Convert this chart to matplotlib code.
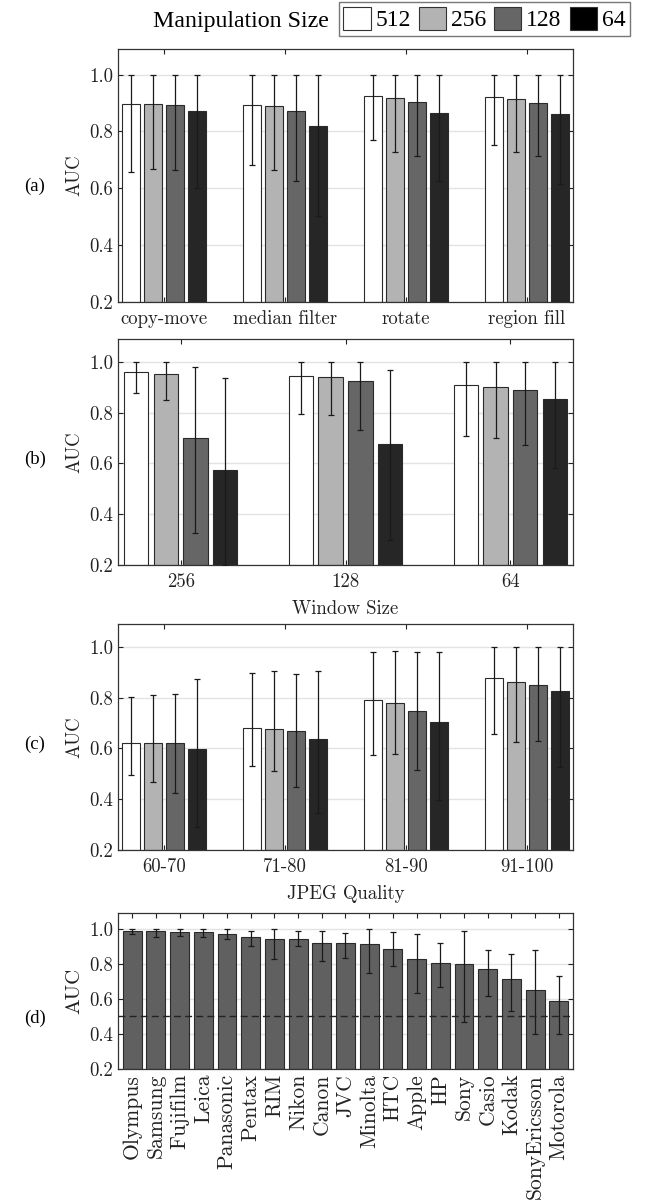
import matplotlib
matplotlib.use("Agg")
import matplotlib.pyplot as plt
from matplotlib.patches import Patch
import numpy as np

# ---- data ----
sizes = ["512", "256", "128", "64"]
size_colors = ["#ffffff", "#b3b3b3", "#666666", "#262626"]
legend_colors = ["#ffffff", "#b3b3b3", "#666666", "#000000"]

# (a) manipulation type
manip_types = ["copy-move", "median filter", "rotate", "region fill"]
manip_auc = [[0.896, 0.893, 0.925, 0.920],   # 512
             [0.896, 0.888, 0.916, 0.914],   # 256
             [0.893, 0.872, 0.904, 0.901],   # 128
             [0.871, 0.820, 0.866, 0.862]]   # 64
manip_lo = [[0.656, 0.681, 0.769, 0.753],
            [0.668, 0.666, 0.729, 0.729],
            [0.665, 0.627, 0.713, 0.714],
            [0.600, 0.504, 0.624, 0.615]]
manip_hi = [[1.0, 1.0, 1.0, 1.0],
            [1.0, 1.0, 1.0, 1.0],
            [1.0, 1.0, 1.0, 1.0],
            [1.0, 1.0, 1.0, 1.0]]

# (b) window size
windows = ["256", "128", "64"]
win_auc = [[0.961, 0.944, 0.908],
           [0.953, 0.940, 0.902],
           [0.702, 0.923, 0.891],
           [0.574, 0.677, 0.854]]
win_lo = [[0.879, 0.793, 0.709],
          [0.850, 0.789, 0.700],
          [0.327, 0.731, 0.673],
          [0.200, 0.298, 0.582]]
win_hi = [[1.0, 1.0, 1.0],
          [1.0, 1.0, 1.0],
          [0.979, 1.0, 1.0],
          [0.937, 0.967, 1.0]]

# (c) JPEG quality
qualities = ["60-70", "71-80", "81-90", "91-100"]
jpeg_auc = [[0.620, 0.680, 0.789, 0.876],
            [0.620, 0.675, 0.778, 0.863],
            [0.620, 0.667, 0.749, 0.851],
            [0.599, 0.639, 0.705, 0.828]]
jpeg_lo = [[0.495, 0.530, 0.576, 0.655],
           [0.468, 0.511, 0.578, 0.624],
           [0.426, 0.449, 0.516, 0.628],
           [0.291, 0.347, 0.397, 0.526]]
jpeg_hi = [[0.804, 0.896, 0.979, 1.0],
           [0.811, 0.904, 0.983, 1.0],
           [0.816, 0.892, 0.979, 1.0],
           [0.872, 0.903, 0.980, 1.0]]

# (d) camera make
makes = ["Olympus", "Samsung", "Fujifilm", "Leica", "Panasonic", "Pentax",
         "RIM", "Nikon", "Canon", "JVC", "Minolta", "HTC", "Apple", "HP",
         "Sony", "Casio", "Kodak", "SonyEricsson", "Motorola"]
make_auc = [0.987, 0.985, 0.983, 0.979, 0.971, 0.952, 0.943, 0.941, 0.920,
            0.920, 0.912, 0.882, 0.827, 0.804, 0.798, 0.771, 0.714, 0.651, 0.589]
make_lo = [0.971, 0.954, 0.958, 0.952, 0.939, 0.901, 0.829, 0.899, 0.817,
           0.836, 0.747, 0.790, 0.632, 0.670, 0.470, 0.617, 0.530, 0.400, 0.398]
make_hi = [1.0, 1.0, 1.0, 0.996, 1.0, 0.987, 0.996, 0.990, 0.987,
           0.977, 1.0, 0.981, 0.973, 0.920, 0.987, 0.880, 0.855, 0.878, 0.733]

# ---- styling ----
plt.rcParams["font.family"] = "cmr10"
plt.rcParams["axes.unicode_minus"] = False
plt.rcParams["axes.formatter.use_mathtext"] = True
TICK_FS = 13.5
LABEL_FONT = "Liberation Serif"

W, H = 647, 1201
fig = plt.figure(figsize=(W / 100, H / 100), dpi=100)


def px_axes(left, top, right, bottom):
    return fig.add_axes([left / W, 1 - bottom / H, (right - left) / W, (bottom - top) / H])


def style_axes(ax, label_fs=TICK_FS):
    ax.set_ylim(0.2, 1.09)
    ax.set_yticks([0.2, 0.4, 0.6, 0.8, 1.0])
    ax.set_yticklabels(["0.2", "0.4", "0.6", "0.8", "1.0"])
    ax.yaxis.grid(True, color="#e3e3e3", linewidth=1.0)
    ax.set_axisbelow(True)
    ax.tick_params(direction="in", top=True, right=True, length=3.5,
                   width=0.8, labelsize=TICK_FS, colors="#222222")
    ax.tick_params(axis="x", pad=6)
    for sp in ax.spines.values():
        sp.set_color("#333333")
        sp.set_linewidth(0.9)
    ax.set_ylabel("AUC", fontsize=label_fs, color="#222222", labelpad=4)


def grouped(ax, cats, auc, lo, hi):
    n = len(cats)
    x = np.arange(1, n + 1)
    pitch, width = 0.18, 0.148
    for i in range(4):
        xs = x + (i - 1.5) * pitch
        vals = np.array(auc[i])
        err = [vals - np.array(lo[i]), np.array(hi[i]) - vals]
        ax.bar(xs, vals - 0.2, width, bottom=0.2, color=size_colors[i],
               edgecolor="#2a2a2a", linewidth=0.8, zorder=2)
        ax.errorbar(xs, vals, yerr=err, fmt="none", ecolor="#1a1a1a",
                    elinewidth=0.9, capsize=2.2, capthick=0.9, zorder=3)
    ax.set_xlim(0.62, n + 0.38)
    ax.set_xticks(x)
    ax.set_xticklabels(cats)
    style_axes(ax)


ax_a = px_axes(118, 49, 573, 302)
grouped(ax_a, manip_types, manip_auc, manip_lo, manip_hi)

ax_b = px_axes(118, 339, 573, 565)
grouped(ax_b, windows, win_auc, win_lo, win_hi)
ax_b.set_xlabel("Window Size", fontsize=TICK_FS, color="#222222", labelpad=6)

ax_c = px_axes(118, 624, 573, 850)
grouped(ax_c, qualities, jpeg_auc, jpeg_lo, jpeg_hi)
ax_c.set_xlabel("JPEG Quality", fontsize=TICK_FS, color="#222222", labelpad=6)

ax_d = px_axes(118, 913, 573, 1069)
xd = np.arange(1, len(makes) + 1)
vals = np.array(make_auc)
ax_d.bar(xd, vals - 0.2, 0.8, bottom=0.2, color="#606060",
         edgecolor="#2a2a2a", linewidth=0.8, zorder=2)
ax_d.errorbar(xd, vals, yerr=[vals - np.array(make_lo), np.array(make_hi) - vals],
              fmt="none", ecolor="#1a1a1a", elinewidth=0.9, capsize=2.2,
              capthick=0.9, zorder=3)
ax_d.axhline(0.5, color="#222222", linestyle=(0, (5, 3)), linewidth=1.0, zorder=4)
ax_d.set_xlim(0.4, len(makes) + 0.6)
ax_d.set_xticks(xd)
style_axes(ax_d, label_fs=15)
ax_d.tick_params(axis="x", pad=3.5)
ax_d.set_xticklabels(makes, rotation=90, fontsize=15.5)

# panel labels
for lab, y in [("(a)", 186), ("(b)", 459), ("(c)", 744), ("(d)", 1018)]:
    fig.text(35 / W, 1 - y / H, lab, family=LABEL_FONT, fontsize=13.5,
             ha="center", va="center")

# legend
handles = [Patch(facecolor=c, edgecolor="#333333", linewidth=0.8) for c in legend_colors]
leg = fig.legend(handles, sizes, ncol=4, loc="upper right",
                 bbox_to_anchor=(630 / W, 1 - 2 / H), frameon=True,
                 fancybox=False, edgecolor="#555555", handlelength=1.15,
                 handleheight=1.15, handletextpad=0.2, columnspacing=0.35,
                 borderpad=0.2, borderaxespad=0,
                 prop={"family": LABEL_FONT, "size": 17})
leg.get_frame().set_linewidth(1.0)
fig.text(329 / W, 1 - 22 / H, "Manipulation Size", family=LABEL_FONT,
         fontsize=17.2, ha="right", va="center")

fig.savefig("out.png", dpi=100)
